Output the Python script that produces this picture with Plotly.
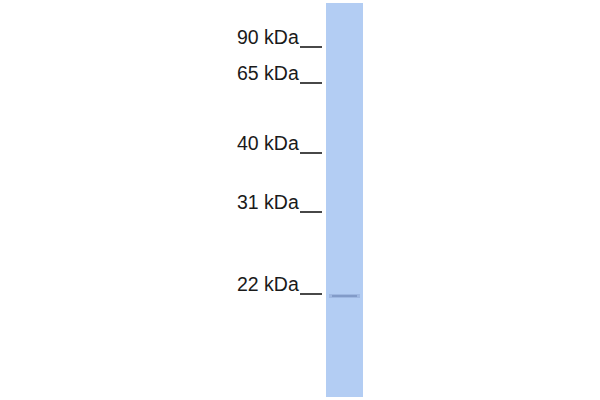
import plotly.graph_objects as go

# Molecular weight markers and their migration positions (pixel rows in the blot)
marker_labels = ["90 kDa", "65 kDa", "40 kDa", "31 kDa", "22 kDa"]
marker_rows = [47, 83, 153, 212, 294]

# Lane extent (rows) and detected band
lane_top = 3
lane_bottom = 397
band_rows = [296]
band_intensity = [0.42]

fig = go.Figure()

# lane
fig.add_trace(go.Bar(
    x=[344.5], y=[lane_bottom - lane_top], base=[lane_top], width=[37],
    marker=dict(color="#b3cdf3", line=dict(width=0)),
    hoverinfo="skip", showlegend=False,
))

# band
for r, a in zip(band_rows, band_intensity):
    fig.add_trace(go.Scatter(
        x=[329, 360], y=[r, r], mode="lines",
        line=dict(color=f"rgba(100,125,175,{a * 0.6})", width=4),
        hoverinfo="skip", showlegend=False,
    ))
    fig.add_trace(go.Scatter(
        x=[332, 357], y=[r, r], mode="lines",
        line=dict(color=f"rgba(90,115,165,{a})", width=2),
        hoverinfo="skip", showlegend=False,
    ))

# marker ticks and labels
for lab, r in zip(marker_labels, marker_rows):
    fig.add_trace(go.Scatter(
        x=[300, 322], y=[r, r], mode="lines",
        line=dict(color="#1a1a1a", width=1.6),
        hoverinfo="skip", showlegend=False,
    ))
    fig.add_annotation(
        x=301, y=r, text=lab, showarrow=False, xanchor="right", yanchor="bottom",
        yshift=-3, font=dict(family="Liberation Sans, Arial", size=19.5, color="#1a1a1a"),
    )

fig.update_layout(
    width=600, height=400, margin=dict(l=0, r=0, t=0, b=0),
    paper_bgcolor="white", plot_bgcolor="white", bargap=0,
    xaxis=dict(range=[0, 600], visible=False, fixedrange=True),
    yaxis=dict(range=[400, 0], visible=False, fixedrange=True),
)

fig.write_html(
    "out.html",
    config={"displayModeBar": False, "staticPlot": True},
    post_script="document.body.style.margin='0';document.body.style.overflow='hidden';",
)
